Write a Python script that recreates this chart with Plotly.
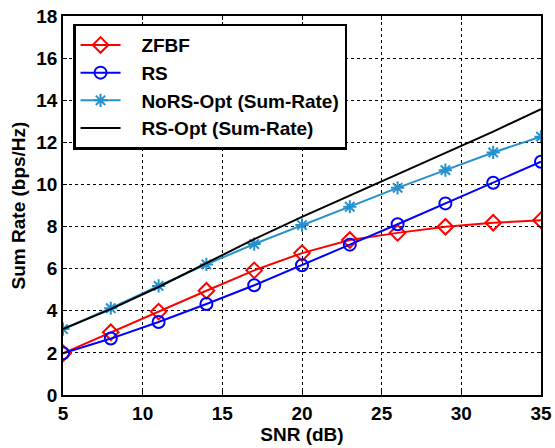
import plotly.graph_objects as go

snr = [5, 8, 11, 14, 17, 20, 23, 26, 29, 32, 35]
zfbf = [1.98, 2.98, 3.96, 4.95, 5.92, 6.74, 7.36, 7.70, 7.99, 8.18, 8.30]
rs = [1.98, 2.68, 3.47, 4.32, 5.21, 6.16, 7.14, 8.11, 9.10, 10.08, 11.08]
nors_opt = [3.13, 4.12, 5.18, 6.20, 7.17, 8.07, 8.94, 9.84, 10.68, 11.52, 12.27]
rs_opt = [3.13, 4.08, 5.13, 6.28, 7.40, 8.46, 9.48, 10.48, 11.49, 12.51, 13.58]

x_ticks = [5, 10, 15, 20, 25, 30, 35]
y_ticks = [0, 2, 4, 6, 8, 10, 12, 14, 16, 18]

font_family = "Liberation Sans, Arial, sans-serif"
pad = "&nbsp;&nbsp;&nbsp;"

fig = go.Figure()
fig.add_trace(go.Scatter(x=snr, y=zfbf, name=pad + "<b>ZFBF</b>", mode="lines+markers",
                         line=dict(color="#ff0000", width=2),
                         marker=dict(symbol="diamond-open", size=12, color="#ff0000",
                                     line=dict(width=2, color="#ff0000"))))
fig.add_trace(go.Scatter(x=snr, y=rs, name=pad + "<b>RS</b>", mode="lines+markers",
                         line=dict(color="#0000ff", width=2),
                         marker=dict(symbol="circle-open", size=12, color="#0000ff",
                                     line=dict(width=2, color="#0000ff"))))
fig.add_trace(go.Scatter(x=snr, y=nors_opt, name=pad + "<b>NoRS-Opt (Sum-Rate)</b>", mode="lines+markers",
                         line=dict(color="#2592cf", width=2),
                         marker=dict(symbol="asterisk-open", size=11, color="#2592cf",
                                     line=dict(width=2, color="#2592cf"))))
fig.add_trace(go.Scatter(x=snr, y=rs_opt, name=pad + "<b>RS-Opt (Sum-Rate)</b>", mode="lines",
                         line=dict(color="#000000", width=2)))

axis_common = dict(
    showline=True, linecolor="black", linewidth=1.5, mirror="ticks",
    ticks="inside", ticklen=4, tickcolor="black", tickwidth=1,
    showgrid=True, gridcolor="black", griddash="dot", gridwidth=1,
    zeroline=False, automargin=False,
    tickfont=dict(family=font_family, size=19, color="black"),
    title_font=dict(family=font_family, size=19, color="black"),
)

fig.update_xaxes(range=[5, 35], tickvals=x_ticks,
                 ticktext=[f"<b>{v}</b>" for v in x_ticks],
                 title_text="<b>SNR (dB)</b>", title_standoff=2, **axis_common)
fig.update_yaxes(range=[0, 18], tickvals=y_ticks,
                 ticktext=[f"<b>{v}</b>" for v in y_ticks],
                 title_text="<b>Sum Rate (bps/Hz)</b>", title_standoff=6, **axis_common)

fig.update_layout(
    width=555, height=448,
    margin=dict(l=63, r=14, t=16, b=53),
    paper_bgcolor="white", plot_bgcolor="white",
    showlegend=True,
    legend=dict(x=0.021, y=0.98, xanchor="left", yanchor="top",
                bgcolor="white", bordercolor="black", borderwidth=2.5,
                font=dict(family=font_family, size=19, color="black"),
                tracegroupgap=0, itemwidth=40),
)

fig.write_html("out.html")
